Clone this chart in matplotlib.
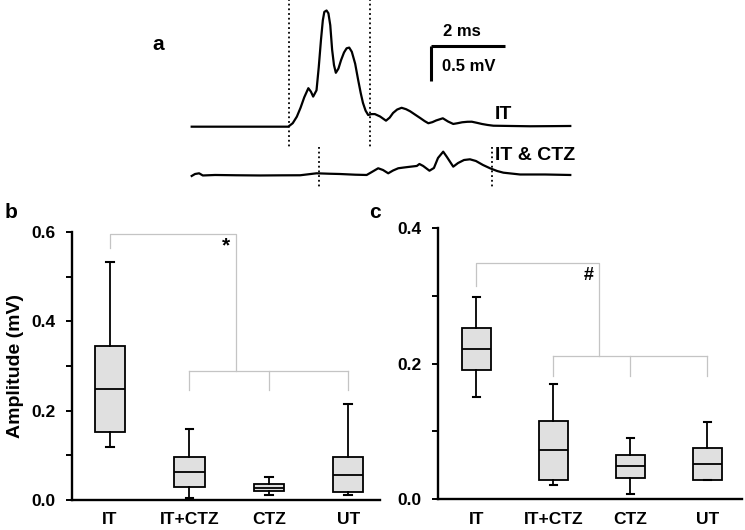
import matplotlib
matplotlib.use("Agg")
import matplotlib.pyplot as plt
from matplotlib.ticker import MultipleLocator

plt.rcParams['font.family'] = ['Liberation Sans', 'DejaVu Sans']
plt.rcParams['font.weight'] = 'bold'

# ---------------------------------------------------------------- data
# panel a: example traces (time in ms, voltage in mV, each trace from its own baseline)
it_t = [0.00, 1.00, 2.00, 2.60, 2.72, 2.83, 2.93, 3.03, 3.14, 3.21, 3.27, 3.36, 3.42, 3.48,
        3.53, 3.57, 3.63, 3.68, 3.73, 3.78, 3.83, 3.88, 3.95, 4.02, 4.10, 4.17, 4.24, 4.31,
        4.40, 4.48, 4.55, 4.61, 4.68, 4.75, 4.84, 4.93, 5.07, 5.23, 5.33, 5.42, 5.53, 5.65,
        5.77, 5.88, 6.02, 6.15, 6.27, 6.37, 6.48, 6.58, 6.76, 6.90, 7.04, 7.16, 7.28, 7.42,
        7.54, 7.68, 7.81, 7.96, 8.12, 8.60, 9.11, 9.70, 10.19]
it_v = [0.000, 0.000, 0.000, 0.000, 0.050, 0.143, 0.270, 0.420, 0.550, 0.500, 0.430, 0.520,
        0.850, 1.240, 1.520, 1.640, 1.660, 1.620, 1.450, 1.100, 0.880, 0.770, 0.830, 0.950,
        1.060, 1.120, 1.130, 1.070, 0.900, 0.670, 0.480, 0.340, 0.230, 0.167, 0.180, 0.180,
        0.146, 0.086, 0.130, 0.196, 0.245, 0.270, 0.250, 0.220, 0.170, 0.124, 0.080, 0.049,
        0.065, 0.089, 0.120, 0.074, 0.039, 0.050, 0.063, 0.070, 0.071, 0.055, 0.039, 0.025,
        0.014, 0.010, 0.006, 0.008, 0.010]

ctz_t = [0.00, 0.09, 0.20, 0.30, 0.63, 1.20, 1.84, 2.40, 2.92, 3.36, 3.70, 3.99, 4.40, 4.71,
         4.85, 5.02, 5.15, 5.29, 5.42, 5.56, 5.70, 5.82, 6.06, 6.13, 6.23, 6.40, 6.52, 6.63,
         6.77, 6.87, 7.04, 7.17, 7.33, 7.49, 7.65, 7.84, 8.03, 8.22, 8.39, 8.84, 9.51, 10.19]
ctz_v = [-0.014, 0.014, 0.024, -0.007, 0.000, -0.004, -0.007, -0.005, -0.004, 0.024, 0.018,
         0.014, 0.004, 0.000, 0.043, 0.096, 0.071, 0.024, 0.064, 0.096, 0.106, 0.114, 0.129,
         0.157, 0.129, 0.061, 0.100, 0.243, 0.333, 0.257, 0.119, 0.171, 0.214, 0.224, 0.200,
         0.143, 0.096, 0.057, 0.033, 0.007, 0.007, 0.000]

it_window = [2.63, 4.80]      # dotted lines, IT trace
ctz_window = [3.43, 8.08]     # dotted lines, IT & CTZ trace

# panels b and c: box plot summaries
groups = ['IT', 'IT+CTZ', 'CTZ', 'UT']

b_low = [0.119, 0.005, 0.0105, 0.0105]
b_q1 = [0.152, 0.030, 0.020, 0.017]
b_med = [0.248, 0.063, 0.0275, 0.055]
b_q3 = [0.345, 0.0955, 0.0365, 0.0955]
b_high = [0.532, 0.160, 0.051, 0.214]

c_low = [0.150, 0.020, 0.0074, 0.0276]
c_q1 = [0.191, 0.0285, 0.031, 0.0276]
c_med = [0.222, 0.0718, 0.048, 0.0517]
c_q3 = [0.253, 0.115, 0.0654, 0.076]
c_high = [0.298, 0.170, 0.0895, 0.114]

# significance brackets: (top, IT drop, lower bar, lower drop), joint x, symbol
b_bracket = [0.595, 0.565, 0.289, 0.246]
c_bracket = [0.348, 0.314, 0.2116, 0.181]
bracket_joint = 2.59
b_mark, c_mark = '*', '#'

LINE_GRAY = '#c4c4c4'
BOX_FILL = '#e0e0e0'

W, H = 745, 530
fig = plt.figure(figsize=(W / 100, H / 100), dpi=100)


def px_axes(x0, x1, y0, y1):
    # axes rectangle given in image pixels (y from top)
    return fig.add_axes([x0 / W, 1 - y1 / H, (x1 - x0) / W, (y1 - y0) / H])


# ---------------------------------------------------------------- panel a
axa = px_axes(185, 580, 0, 195)
ctz_off = -0.69
axa.plot(it_t, it_v, color='black', lw=1.6, solid_joinstyle='round')
axa.plot(ctz_t, [v + ctz_off for v in ctz_v], color='black', lw=1.6, solid_joinstyle='round')
for t in it_window:
    axa.plot([t, t], [1.85, -0.286], color='black', lw=1.3, ls=(0, (1, 1.6)))
for t in ctz_window:
    axa.plot([t, t], [-0.286, -0.88], color='black', lw=1.3, ls=(0, (1, 1.6)))
# scale bar
axa.plot([6.43, 8.43], [1.153, 1.153], color='black', lw=2.2, solid_capstyle='butt')
axa.plot([6.43, 6.43], [1.153, 0.653], color='black', lw=2.2, solid_capstyle='butt')
axa.text(7.28, 1.367, '2 ms', ha='center', va='center', fontsize=12)
axa.text(6.73, 0.857, '0.5 mV', ha='left', va='center', fontsize=12)
axa.text(8.16, 0.18, 'IT', ha='left', va='center', fontsize=14)
axa.text(8.16, -0.416, 'IT & CTZ', ha='left', va='center', fontsize=14)
axa.set_xlim(-0.18, 10.452)
axa.set_ylim(-0.976, 1.81)
axa.axis('off')

fig.text(158 / W, 1 - 44 / H, 'a', ha='center', va='center', fontsize=15)


# ---------------------------------------------------------------- panels b, c
def box_panel(ax, low, q1, med, q3, high, ymax, bracket, mark, xlim):
    stats = [dict(whislo=lo, q1=a, med=m, q3=b, whishi=hi, label=g)
             for g, lo, a, m, b, hi in zip(groups, low, q1, med, q3, high)]
    pos = list(range(1, len(groups) + 1))
    ax.bxp(stats, positions=pos, widths=0.38, showfliers=False, patch_artist=True,
           capwidths=0.1,
           boxprops=dict(facecolor=BOX_FILL, edgecolor='black', lw=1.3),
           medianprops=dict(color='black', lw=1.3),
           whiskerprops=dict(color='black', lw=1.3),
           capprops=dict(color='black', lw=1.5))
    top, drop, bar, bar_drop = bracket
    kw = dict(color=LINE_GRAY, lw=0.9, clip_on=False, zorder=0)
    ax.plot([pos[0], pos[0], bracket_joint, bracket_joint], [drop, top, top, bar], **kw)
    ax.plot([pos[1], pos[-1]], [bar, bar], **kw)
    for p in pos[1:]:
        ax.plot([p, p], [bar, bar_drop], **kw)
    ax.text(bracket_joint - 0.13, top - 0.045 * ymax, mark, ha='center', va='center',
            fontsize=15 if mark == '*' else 13)

    ax.set_xlim(*xlim)
    ax.set_ylim(0, ymax)
    ax.yaxis.set_major_locator(MultipleLocator(0.2))
    ax.yaxis.set_minor_locator(MultipleLocator(0.1))
    ax.yaxis.set_major_formatter(matplotlib.ticker.FormatStrFormatter('%.1f'))
    for s in ['top', 'right']:
        ax.spines[s].set_visible(False)
    for s in ['left', 'bottom']:
        ax.spines[s].set_linewidth(1.7)
    ax.tick_params(axis='y', which='both', direction='out', length=4, width=1.4,
                   labelsize=12.5, pad=8)
    ax.tick_params(axis='x', length=0, labelsize=12.5, pad=9)
    for lbl in ax.get_xticklabels() + ax.get_yticklabels():
        lbl.set_fontweight('bold')


axb = px_axes(72, 380, 232, 500)
box_panel(axb, b_low, b_q1, b_med, b_q3, b_high, 0.6, b_bracket, b_mark, (0.52, 4.4))
axb.set_ylabel('Amplitude (mV)', fontsize=14, fontweight='bold', labelpad=5)

axc = px_axes(438, 742, 228, 499)
box_panel(axc, c_low, c_q1, c_med, c_q3, c_high, 0.4, c_bracket, c_mark, (0.5, 4.45))

fig.text(11 / W, 1 - 213 / H, 'b', ha='center', va='center', fontsize=15)
fig.text(375 / W, 1 - 213 / H, 'c', ha='center', va='center', fontsize=15)

fig.savefig('out.png', dpi=100)
